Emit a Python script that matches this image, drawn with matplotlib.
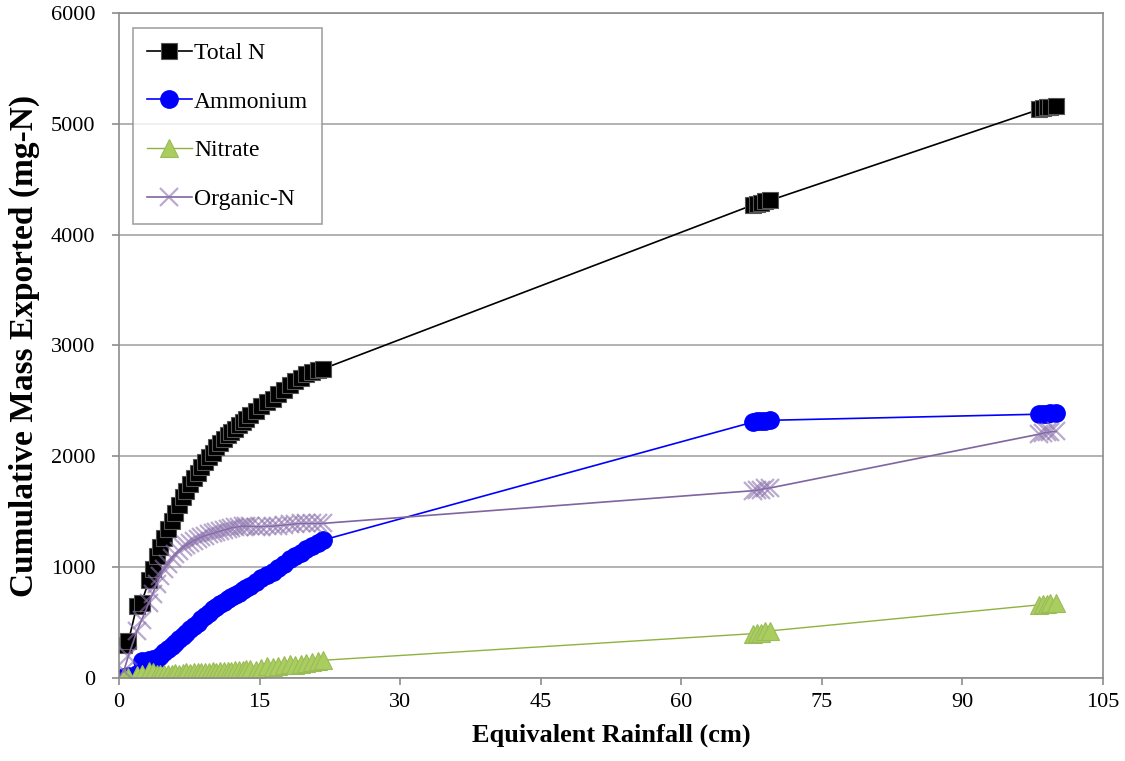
import matplotlib.pyplot as plt

# rainfall (cm) at each sampling point
rain = [0.5, 1.0, 1.9, 2.4,
        3.2, 3.6, 4.0, 4.4, 4.8, 5.2, 5.6, 6.0, 6.4, 6.8,
        7.2, 7.6, 8.0, 8.4, 8.8, 9.2, 9.6, 10.0, 10.4, 10.8,
        11.2, 11.6, 12.0, 12.4, 12.8, 13.2, 13.6, 14.0,
        14.6, 15.2, 15.8, 16.4, 17.0, 17.6, 18.2, 18.8, 19.4, 20.0,
        20.6, 21.2, 21.8,
        67.7, 68.1, 68.5, 68.9, 69.5,
        98.2, 98.6, 99.0, 99.4, 100.0]

total_n = [300, 330, 650, 680,
           880, 980, 1100, 1180, 1260, 1340, 1420, 1490, 1560, 1630,
           1690, 1750, 1800, 1850, 1900, 1950, 1990, 2030, 2080, 2120,
           2160, 2190, 2220, 2250, 2280, 2310, 2340, 2370,
           2410, 2450, 2490, 2520, 2560, 2600, 2640, 2680, 2710, 2740,
           2760, 2780, 2790,
           4270, 4280, 4290, 4300, 4310,
           5130, 5140, 5150, 5155, 5160]

ammonium = [5, 15, 40, 150,
            165, 170, 175, 195, 230, 260, 290, 320, 350, 380,
            410, 440, 470, 500, 530, 560, 590, 620, 640, 670,
            690, 710, 730, 750, 770, 790, 810, 830,
            870, 900, 930, 960, 990, 1030, 1070, 1100, 1130, 1160,
            1190, 1220, 1245,
            2310, 2315, 2320, 2320, 2325,
            2380, 2385, 2385, 2390, 2390]

nitrate = [5, 10, 25, 35,
           60, 50, 40, 35, 35, 40, 40, 45, 40, 45,
           50, 45, 50, 50, 55, 50, 55, 60, 55, 60,
           60, 65, 60, 70, 75, 70, 80, 85,
           75, 90, 110, 100, 105, 115, 130, 120, 125, 135,
           145, 150, 160,
           400, 405, 410, 420, 425,
           660, 665, 670, 675, 680]

organic_n = [60, 200, 420, 520,
             680, 760, 850, 920, 980, 1030, 1080, 1120, 1150, 1180,
             1200, 1220, 1240, 1255, 1270, 1285, 1295, 1305, 1315, 1325,
             1335, 1345, 1355, 1360, 1365, 1370, 1370, 1370,
             1365, 1365, 1370, 1370, 1375, 1380, 1385, 1390, 1395, 1395,
             1395, 1395, 1395,
             1690, 1695, 1700, 1710, 1715,
             2200, 2210, 2215, 2220, 2225]

plt.rcParams['font.family'] = ['Liberation Serif', 'DejaVu Serif']

fig = plt.figure(figsize=(11.25, 7.61), dpi=100)
ax = fig.add_axes([0.1058, 0.1091, 0.8746, 0.8738])

ax.plot(rain, total_n, color='black', lw=1.2, marker='s', ms=12,
        mfc='black', mec='#555555', mew=0.8, label='Total N')
ax.plot(rain, ammonium, color='#0000FF', lw=1.2, marker='o', ms=12.5,
        mfc='#0000FF', mec='#0000FF', label='Ammonium')
ax.plot(rain, nitrate, color='#8DB33C', lw=1.0, marker='^', ms=12.5,
        mfc='#A9CD5F', mec='#9BBB59', mew=0.8, label='Nitrate')
ax.plot(rain, organic_n, color='#7F64A0', lw=1.2, marker='x', ms=13,
        mec=(0.55, 0.45, 0.68, 0.6), mew=1.6, label='Organic-N')

ax.set_xlim(0, 105)
ax.set_ylim(0, 6000)
ax.set_xticks(range(0, 106, 15))
ax.set_yticks(range(0, 6001, 1000))

ax.grid(axis='y', color='#A6A6A6', lw=1.2)
ax.set_axisbelow(True)
for s in ax.spines.values():
    s.set_color('#8C8C8C')
    s.set_linewidth(1.2)

ax.tick_params(axis='both', direction='out', length=5, width=1.2,
               color='#8C8C8C', labelsize=16)
ax.tick_params(axis='y', pad=12)
ax.tick_params(axis='x', pad=6)

ax.set_xlabel('Equivalent Rainfall (cm)', fontsize=19, fontweight='bold',
              labelpad=8)
ax.set_ylabel('Cumulative Mass Exported (mg-N)', fontsize=24,
              fontweight='bold', labelpad=8)

leg = ax.legend(loc='upper left', bbox_to_anchor=(0.014, 0.977),
                fontsize=17, frameon=True, fancybox=False,
                handlelength=1.9, handletextpad=0.1, labelspacing=1.15,
                borderpad=0.6, borderaxespad=0)
leg.get_frame().set_edgecolor('#8C8C8C')
leg.get_frame().set_linewidth(1.2)

fig.savefig('out.png', dpi=100)
